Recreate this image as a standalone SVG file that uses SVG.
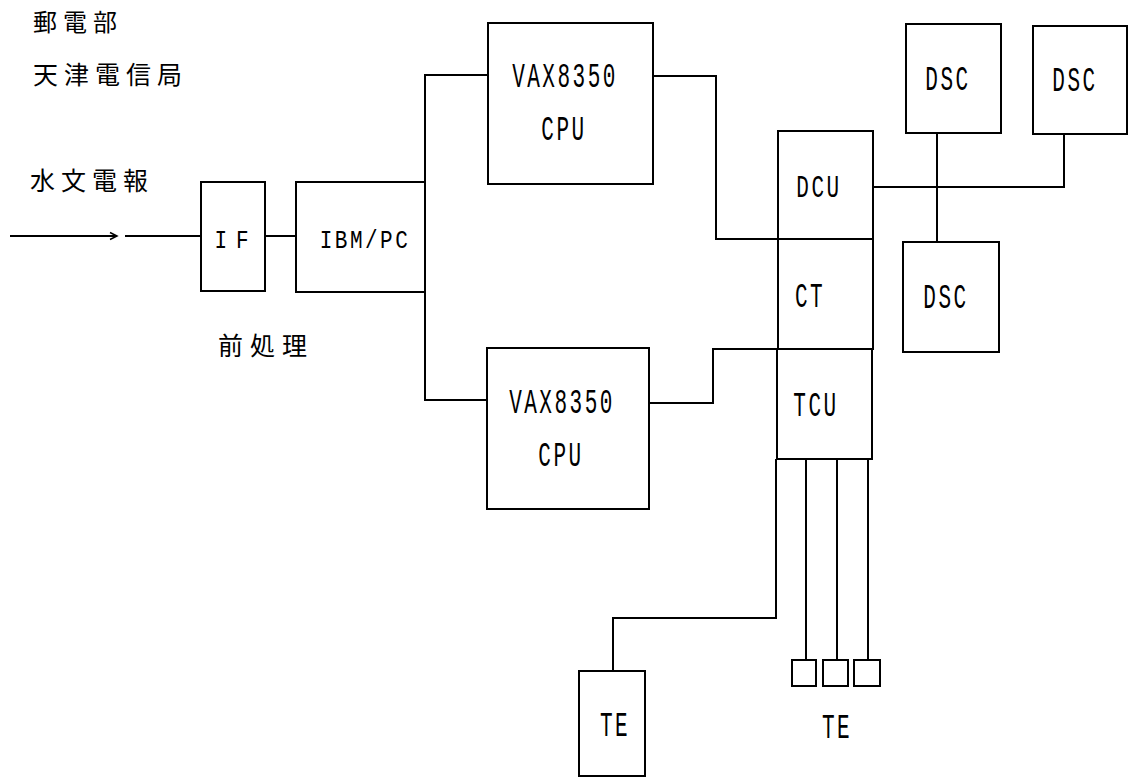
<svg xmlns="http://www.w3.org/2000/svg" width="1132" height="779" viewBox="0 0 1132 779">
<style>
.box{fill:none;stroke:#000;stroke-width:2}
.ln{fill:none;stroke:#000;stroke-width:2}
.lbl{font-family:"Liberation Mono",monospace;font-size:21px;letter-spacing:2.5px;text-anchor:middle;fill:#000}
.cjk{font-family:"Noto Sans CJK JP",sans-serif;font-size:24px;letter-spacing:6px;fill:#000}
</style>
<defs>
<marker id="arr" markerWidth="10" markerHeight="10" refX="8" refY="5" orient="auto" markerUnits="userSpaceOnUse">
<path d="M1,1.5 L8,5 L1,8.5" fill="none" stroke="#000" stroke-width="1.5"/>
</marker>
</defs>
<g id="titles">
<text class="cjk" x="33" y="31">郵電部</text>
<text class="cjk" x="33" y="84" style="font-size:25px;letter-spacing:6px">天津電信局</text>
<text class="cjk" x="30" y="190" style="font-size:25px;letter-spacing:6px">水文電報</text>
<text class="cjk" x="218" y="355" style="font-size:25px;letter-spacing:7px">前処理</text>
</g>
<g id="connectors">
<line class="ln" x1="10" y1="236" x2="117" y2="236" marker-end="url(#arr)"/>
<line class="ln" x1="125" y1="236" x2="201" y2="236"/>
<line class="ln" x1="265" y1="236" x2="296" y2="236"/>
<polyline class="ln" points="488,75 425,75 425,400 487,400"/>
<polyline class="ln" points="653,76 716,76 716,239 778,239"/>
<polyline class="ln" points="649,403 713,403 713,349 777,349"/>
<polyline class="ln" points="873,187 1064,187 1064,134"/>
<line class="ln" x1="937" y1="133" x2="937" y2="242"/>
<polyline class="ln" points="776,459 776,618 613,618 613,671"/>
<line class="ln" x1="806" y1="458" x2="806" y2="660"/>
<line class="ln" x1="837" y1="458" x2="837" y2="660"/>
<line class="ln" x1="868" y1="458" x2="868" y2="660"/>
</g>
<g id="IF">
<rect class="box" x="201" y="182" width="64" height="109"/>
<text class="lbl" transform="translate(236,248) scale(1,1.25)" style="letter-spacing:9px">IF</text>
</g>
<g id="IBMPC">
<rect class="box" x="296" y="182" width="129" height="110"/>
<text class="lbl" transform="translate(365,248) scale(1,1.25)">IBM/PC</text>
</g>
<g id="VAX1">
<rect class="box" x="488" y="23" width="165" height="161"/>
<text class="lbl" transform="translate(565,87) scale(1,1.65)">VAX8350</text>
<text class="lbl" transform="translate(564,140) scale(1,1.65)">CPU</text>
</g>
<g id="VAX2">
<rect class="box" x="487" y="348" width="162" height="161"/>
<text class="lbl" transform="translate(562,413) scale(1,1.65)">VAX8350</text>
<text class="lbl" transform="translate(561,466) scale(1,1.65)">CPU</text>
</g>
<g id="DCU">
<rect class="box" x="778" y="131" width="95" height="108"/>
<text class="lbl" transform="translate(819,197) scale(1,1.45)">DCU</text>
</g>
<g id="CT">
<rect class="box" x="778" y="239" width="95" height="110"/>
<text class="lbl" transform="translate(810,307) scale(1,1.65)">CT</text>
</g>
<g id="TCU">
<rect class="box" x="777" y="349" width="95" height="110"/>
<text class="lbl" transform="translate(816,416) scale(1,1.65)">TCU</text>
</g>
<g id="DSC1">
<rect class="box" x="906" y="24" width="95" height="109"/>
<text class="lbl" transform="translate(948,90) scale(1,1.65)">DSC</text>
</g>
<g id="DSC2">
<rect class="box" x="1033" y="26" width="94" height="108"/>
<text class="lbl" transform="translate(1075,91) scale(1,1.65)">DSC</text>
</g>
<g id="DSC3">
<rect class="box" x="903" y="242" width="96" height="110"/>
<text class="lbl" transform="translate(946,308) scale(1,1.65)">DSC</text>
</g>
<g id="TE1">
<rect class="box" x="579" y="671" width="66" height="105"/>
<text class="lbl" transform="translate(615,736) scale(1,1.65)">TE</text>
</g>
<g id="TE2">
<rect class="box" x="792" y="660" width="24" height="26"/>
<rect class="box" x="823" y="660" width="25" height="26"/>
<rect class="box" x="854" y="660" width="26" height="26"/>
<text class="lbl" transform="translate(837,738) scale(1,1.65)">TE</text>
</g>
</svg>
